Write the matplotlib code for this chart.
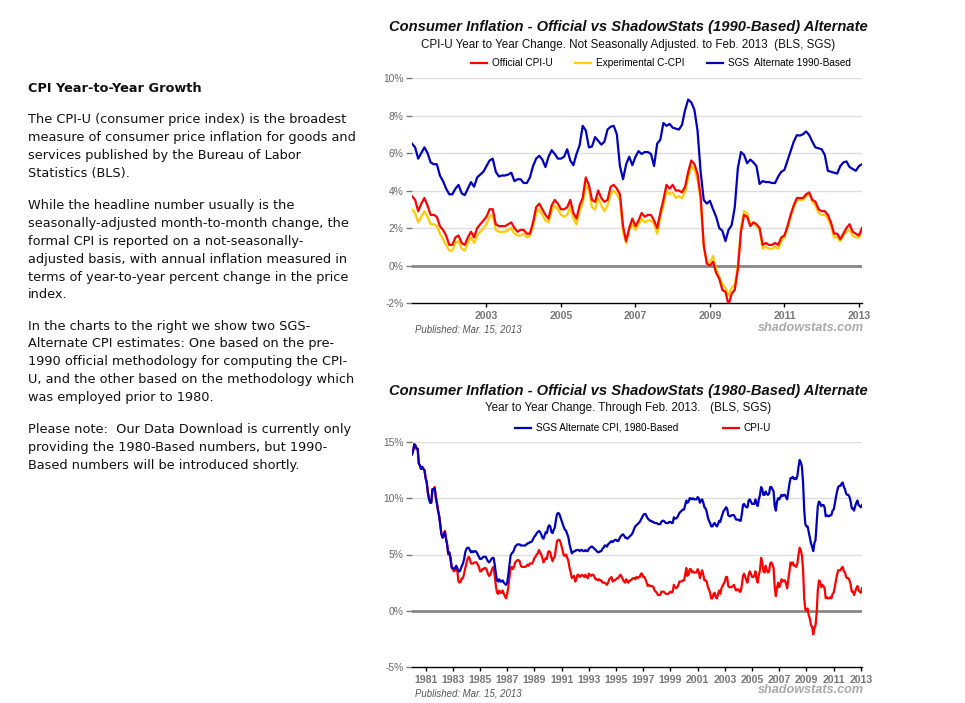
import numpy as np
import matplotlib
matplotlib.use("Agg")
import matplotlib.pyplot as plt

# ---- data: top chart, monthly Jan 2001 .. Feb 2013 ----
top_start = 2001
cpi_u = [3.7, 3.5, 2.9, 3.3, 3.6, 3.2, 2.7, 2.7, 2.6, 2.1, 1.9, 1.6,
         1.1, 1.1, 1.5, 1.6, 1.2, 1.1, 1.5, 1.8, 1.5, 2.0, 2.2, 2.4,
         2.6, 3.0, 3.0, 2.2, 2.1, 2.1, 2.1, 2.2, 2.3, 2.0, 1.8, 1.9,
         1.9, 1.7, 1.7, 2.3, 3.1, 3.3, 3.0, 2.7, 2.5, 3.2, 3.5, 3.3,
         3.0, 3.0, 3.1, 3.5, 2.8, 2.5, 3.2, 3.6, 4.7, 4.3, 3.5, 3.4,
         4.0, 3.6, 3.4, 3.5, 4.2, 4.3, 4.1, 3.8, 2.1, 1.3, 2.0, 2.5,
         2.1, 2.4, 2.8, 2.6, 2.7, 2.7, 2.4, 2.0, 2.8, 3.5, 4.3, 4.1,
         4.3, 4.0, 4.0, 3.9, 4.2, 5.0, 5.6, 5.4, 4.9, 3.7, 1.1, 0.1,
         0.0, 0.2, -0.4, -0.7, -1.3, -1.4, -2.1, -1.5, -1.3, -0.2, 1.8, 2.7,
         2.6, 2.1, 2.3, 2.2, 2.0, 1.1, 1.2, 1.1, 1.1, 1.2, 1.1, 1.5,
         1.6, 2.1, 2.7, 3.2, 3.6, 3.6, 3.6, 3.8, 3.9, 3.5, 3.4, 3.0,
         2.9, 2.9, 2.7, 2.3, 1.7, 1.7, 1.4, 1.7, 2.0, 2.2, 1.8, 1.7,
         1.6, 2.0]

c_cpi = [3.0, 2.8, 2.3, 2.6, 2.9, 2.6, 2.2, 2.2, 2.1, 1.7, 1.4, 1.1,
         0.8, 0.8, 1.2, 1.3, 0.9, 0.8, 1.2, 1.5, 1.2, 1.6, 1.8, 2.0,
         2.2, 2.6, 2.7, 1.9, 1.8, 1.8, 1.8, 1.9, 2.0, 1.7, 1.6, 1.6,
         1.7, 1.5, 1.6, 2.1, 2.8, 3.0, 2.7, 2.4, 2.3, 2.9, 3.2, 3.0,
         2.7, 2.6, 2.7, 3.1, 2.5, 2.2, 2.9, 3.3, 4.3, 4.0, 3.1, 3.0,
         3.6, 3.2, 2.9, 3.2, 3.8, 4.0, 3.8, 3.5, 1.8, 1.2, 1.9, 2.2,
         1.9, 2.2, 2.5, 2.3, 2.4, 2.4, 2.2, 1.7, 2.6, 3.2, 4.0, 3.8,
         3.9, 3.6, 3.7, 3.6, 3.9, 4.7, 5.3, 5.1, 4.6, 3.5, 1.0, 0.2,
         0.2, 0.5, -0.2, -0.6, -1.0, -1.2, -1.6, -1.2, -1.0, 0.0, 2.0, 2.9,
         2.8, 2.2, 2.3, 2.1, 1.9, 0.9, 1.0, 0.9, 0.9, 1.0, 0.9, 1.3,
         1.5, 2.0, 2.6, 3.1, 3.5, 3.5, 3.5, 3.7, 3.8, 3.4, 3.2, 2.8,
         2.7, 2.7, 2.5, 2.1, 1.5, 1.5, 1.3, 1.6, 1.8, 1.9, 1.6, 1.5,
         1.5, 1.8]

sgs_1990 = [6.5, 6.3, 5.7, 6.0, 6.3, 6.0, 5.5, 5.4, 5.4, 4.8, 4.5, 4.1,
            3.8, 3.8, 4.1, 4.3, 3.85, 3.75, 4.1, 4.45, 4.2, 4.7, 4.85, 5.0,
            5.3, 5.6, 5.7, 5.0, 4.75, 4.8, 4.8, 4.85, 4.95, 4.5, 4.6, 4.6,
            4.4, 4.4, 4.7, 5.3, 5.7, 5.85, 5.65, 5.25, 5.8, 6.15, 5.95, 5.7,
            5.7, 5.8, 6.2, 5.6, 5.35, 5.95, 6.4, 7.45, 7.2, 6.3, 6.35, 6.85,
            6.65, 6.45, 6.6, 7.25, 7.4, 7.45, 7.0, 5.3, 4.6, 5.4, 5.8, 5.35,
            5.8, 6.1, 5.95, 6.05, 6.05, 5.95, 5.3, 6.5, 6.7, 7.6, 7.45, 7.55,
            7.35, 7.3, 7.25, 7.5, 8.3, 8.85, 8.7, 8.3, 7.2, 5.0, 3.5, 3.3,
            3.45, 3.0, 2.6, 2.0, 1.85, 1.3, 1.9, 2.15, 3.1, 5.2, 6.05, 5.9,
            5.45, 5.65, 5.5, 5.3, 4.35, 4.5, 4.45, 4.45, 4.4, 4.4, 4.75, 5.0,
            5.1, 5.6, 6.1, 6.6, 6.95, 6.93, 7.0, 7.15, 6.95, 6.6, 6.3, 6.25,
            6.2, 5.9, 5.05, 5.0, 4.95, 4.9, 5.3, 5.5, 5.55, 5.25, 5.15, 5.05,
            5.3, 5.4]

# ---- data: bottom chart, monthly Jan 1980 .. Feb 2013 ----
bottom_start = 1980
cpi_u_1980_2000 = [13.9, 14.2, 14.8, 14.7, 14.4, 14.4, 13.1, 12.9, 12.6, 12.8, 12.6, 12.5,
                   11.8, 11.4, 10.5, 10.0, 9.8, 9.6, 10.8, 10.8, 11.0, 10.1, 9.6, 8.9,
                   8.4, 7.6, 6.8, 6.5, 6.7, 7.1, 6.4, 5.9, 5.0, 5.1, 4.6, 3.8,
                   3.7, 3.5, 3.6, 3.9, 3.5, 2.6, 2.5, 2.6, 2.9, 2.9, 3.3, 3.8,
                   4.2, 4.6, 4.8, 4.6, 4.2, 4.2, 4.2, 4.3, 4.3, 4.3, 4.1, 3.9,
                   3.5, 3.5, 3.7, 3.7, 3.8, 3.8, 3.6, 3.3, 3.1, 3.2, 3.5, 3.8,
                   3.9, 3.1, 2.2, 1.6, 1.5, 1.8, 1.6, 1.6, 1.8, 1.5, 1.3, 1.1,
                   1.5, 2.1, 3.0, 3.8, 3.9, 3.7, 3.9, 4.3, 4.4, 4.5, 4.5, 4.4,
                   4.0, 3.9, 3.9, 3.9, 3.9, 4.0, 4.1, 4.0, 4.2, 4.2, 4.2, 4.4,
                   4.7, 4.8, 5.0, 5.1, 5.4, 5.2, 5.0, 4.7, 4.3, 4.5, 4.7, 4.6,
                   5.2, 5.3, 5.2, 4.7, 4.4, 4.7, 4.8, 5.6, 6.2, 6.3, 6.3, 6.1,
                   5.7, 5.3, 4.9, 4.9, 5.0, 4.7, 4.4, 3.8, 3.4, 2.9, 3.0, 3.1,
                   2.6, 2.8, 3.2, 3.2, 3.0, 3.1, 3.2, 3.1, 3.0, 3.2, 3.0, 2.9,
                   3.3, 3.2, 3.1, 3.2, 3.2, 3.0, 2.8, 2.8, 2.7, 2.8, 2.7, 2.7,
                   2.5, 2.5, 2.5, 2.4, 2.3, 2.5, 2.8, 2.9, 3.0, 2.6, 2.7, 2.7,
                   2.8, 2.9, 2.9, 3.1, 3.2, 3.0, 2.8, 2.6, 2.5, 2.8, 2.6, 2.5,
                   2.7, 2.7, 2.8, 2.9, 2.9, 2.8, 3.0, 2.9, 3.0, 3.0, 3.3, 3.3,
                   3.0, 3.0, 2.8, 2.5, 2.2, 2.3, 2.2, 2.2, 2.2, 2.1, 1.8, 1.7,
                   1.6, 1.4, 1.4, 1.4, 1.7, 1.7, 1.7, 1.6, 1.5, 1.5, 1.5, 1.6,
                   1.7, 1.6, 1.7, 2.3, 2.1, 2.0, 2.1, 2.3, 2.6, 2.6, 2.6, 2.7,
                   2.7, 3.2, 3.8, 3.1, 3.2, 3.7, 3.7, 3.4, 3.5, 3.4, 3.4, 3.4]
cpi_u_long = cpi_u_1980_2000 + cpi_u

sgs_1980 = [13.9, 14.2, 14.8, 14.7, 14.4, 14.4, 13.1, 12.9, 12.6, 12.8, 12.6, 12.5,
            11.8, 11.4, 10.5, 9.9, 9.6, 9.6, 10.8, 10.8, 10.9, 10.1, 9.5, 8.9,
            8.4, 7.6, 6.8, 6.5, 6.7, 7.0, 6.4, 5.9, 5.1, 5.2, 4.7, 3.9,
            3.8, 3.7, 3.8, 4.0, 3.8, 3.5, 3.5, 3.7, 4.0, 4.2, 4.6, 5.2,
            5.5, 5.6, 5.6, 5.4, 5.2, 5.3, 5.2, 5.3, 5.3, 5.2, 5.0, 4.8,
            4.6, 4.6, 4.7, 4.8, 4.8, 4.8, 4.6, 4.4, 4.3, 4.4, 4.6, 4.7,
            4.7, 4.1, 3.3, 2.7, 2.6, 2.8, 2.6, 2.6, 2.7, 2.5, 2.4, 2.3,
            2.5, 3.2, 4.1, 4.9, 5.1, 5.2, 5.4, 5.7, 5.8, 5.9, 5.9, 5.9,
            5.8, 5.8, 5.8, 5.8, 5.8, 5.9, 6.0, 6.0, 6.1, 6.1, 6.2, 6.4,
            6.6, 6.7, 6.9, 7.0, 7.1, 7.0, 6.8, 6.5, 6.4, 6.7, 7.0, 6.9,
            7.4, 7.6, 7.5, 7.0, 6.9, 7.2, 7.4, 8.1, 8.6, 8.7, 8.6, 8.3,
            8.0, 7.7, 7.4, 7.2, 7.1, 6.8, 6.5, 5.9, 5.5, 5.1, 5.2, 5.3,
            5.3, 5.4, 5.4, 5.4, 5.3, 5.4, 5.4, 5.3, 5.3, 5.4, 5.3, 5.3,
            5.5, 5.6, 5.7, 5.7, 5.6, 5.5, 5.4, 5.3, 5.2, 5.2, 5.3, 5.3,
            5.5, 5.6, 5.8, 5.8, 5.7, 5.9, 6.0, 6.1, 6.2, 6.1, 6.2, 6.3,
            6.3, 6.2, 6.2, 6.4, 6.6, 6.7, 6.8, 6.7, 6.5, 6.5, 6.4, 6.5,
            6.6, 6.7, 6.8, 7.0, 7.3, 7.5, 7.6, 7.7, 7.8, 7.9, 8.1, 8.3,
            8.5, 8.6, 8.6, 8.4, 8.2, 8.1, 8.0, 8.0, 7.9, 7.9, 7.8, 7.8,
            7.8, 7.7, 7.7, 7.7, 7.9, 8.0, 8.0, 7.9, 7.8, 7.8, 7.8, 7.9,
            7.9, 7.8, 7.8, 8.3, 8.2, 8.2, 8.3, 8.5, 8.7, 8.8, 8.9, 9.0,
            9.0, 9.4, 9.8, 9.6, 9.7, 10.0, 10.0, 9.9, 10.0, 9.9, 9.9, 9.9,
            10.1, 10.0, 9.6, 9.8, 9.9, 9.6, 9.2, 9.1, 8.8, 8.3, 8.0, 7.8,
            7.5, 7.5, 7.7, 7.8, 7.6, 7.5, 7.7, 8.0, 7.9, 8.3, 8.6, 8.9,
            9.0, 9.2, 9.1, 8.5, 8.4, 8.4, 8.5, 8.5, 8.5, 8.3, 8.1, 8.1,
            8.1, 8.0, 8.0, 8.6, 9.4, 9.5, 9.3, 9.2, 9.2, 9.8, 9.9, 9.7,
            9.5, 9.5, 9.5, 9.9, 9.5, 9.3, 9.9, 10.3, 11.0, 10.8, 10.3, 10.3,
            10.6, 10.4, 10.3, 10.4, 11.0, 11.0, 10.8, 10.6, 9.3, 8.9, 9.7, 10.0,
            9.9, 10.1, 10.3, 10.2, 10.3, 10.3, 10.1, 9.9, 10.6, 11.3, 11.8, 11.8,
            11.9, 11.7, 11.8, 11.7, 12.0, 12.8, 13.4, 13.2, 12.8, 11.4, 9.0, 7.7,
            7.5, 7.5, 7.0, 6.5, 6.0, 5.7, 5.3, 6.0, 6.3, 7.8, 9.3, 9.7,
            9.6, 9.3, 9.4, 9.4, 9.2, 8.4, 8.5, 8.4, 8.4, 8.5, 8.5, 8.9,
            9.0, 9.5, 10.1, 10.6, 11.0, 11.1, 11.1, 11.3, 11.4, 11.0, 10.8, 10.4,
            10.3, 10.3, 10.1, 9.7, 9.1, 9.1, 8.9, 9.3, 9.6, 9.8, 9.4, 9.3,
            9.2, 9.4]

top_years = [2003, 2005, 2007, 2009, 2011, 2013]
top_yticks = [-2, 0, 2, 4, 6, 8, 10]
bottom_years = list(range(1981, 2014, 2))
bottom_yticks = [-5, 0, 5, 10, 15]

left_text = [
    ("CPI Year-to-Year Growth", True),
    None,
    ("The CPI-U (consumer price index) is the broadest", False),
    ("measure of consumer price inflation for goods and", False),
    ("services published by the Bureau of Labor", False),
    ("Statistics (BLS).", False),
    None,
    ("While the headline number usually is the", False),
    ("seasonally-adjusted month-to-month change, the", False),
    ("formal CPI is reported on a not-seasonally-", False),
    ("adjusted basis, with annual inflation measured in", False),
    ("terms of year-to-year percent change in the price", False),
    ("index.", False),
    None,
    ("In the charts to the right we show two SGS-", False),
    ("Alternate CPI estimates: One based on the pre-", False),
    ("1990 official methodology for computing the CPI-", False),
    ("U, and the other based on the methodology which", False),
    ("was employed prior to 1980.", False),
    None,
    ("Please note:  Our Data Download is currently only", False),
    ("providing the 1980-Based numbers, but 1990-", False),
    ("Based numbers will be introduced shortly.", False),
]

W, H = 965, 703
RED = "#ff0000"
YELLOW = "#ffcc00"
BLUE = "#0000bb"
SANS = "Liberation Sans"

fig = plt.figure(figsize=(W / 100, H / 100), dpi=100)
fig.patch.set_facecolor("white")


def fx(px):
    return px / W


def fy(py):
    return 1 - py / H


# left column text
y = 89
for item in left_text:
    if item is None:
        y += 13
        continue
    txt, bold = item
    fig.text(fx(28), fy(y), txt, fontsize=9.3, family="DejaVu Sans",
             fontweight="bold" if bold else "normal", color="#111111",
             va="center", ha="left")
    y += 18 if not bold else 18


def style_axes(ax, yticks, ylim, xlim, years):
    ax.set_xlim(*xlim)
    ax.set_ylim(*ylim)
    for s in ("left", "right", "top"):
        ax.spines[s].set_visible(False)
    ax.spines["bottom"].set_color("black")
    ax.spines["bottom"].set_linewidth(1)
    for v in yticks[1:]:
        if v == 0:
            ax.axhline(v, color="#888888", lw=2, zorder=1)
        else:
            ax.axhline(v, color="#dddddd", lw=1, zorder=0)
    ax.set_yticks(yticks)
    ax.set_yticklabels([f"{v}%" for v in yticks])
    ax.tick_params(axis="y", length=4, width=1, color="#777777",
                   labelcolor="#666666", labelsize=7.4, pad=2)
    ax.set_xticks(years)
    ax.set_xticklabels([str(v) for v in years], fontweight="bold")
    ax.tick_params(axis="x", length=3, width=1, color="black",
                   labelcolor="#777777", labelsize=7.6, pad=3)
    for lab in ax.get_xticklabels() + ax.get_yticklabels():
        lab.set_family(SANS)


# ---- top chart ----
ax1 = fig.add_axes([fx(412), fy(303), fx(450), 225 / H])
xt = top_start + np.arange(len(cpi_u)) / 12
ax1.plot(xt, sgs_1990, color=BLUE, lw=1.6, label="SGS  Alternate 1990-Based", zorder=3)
ax1.plot(xt, c_cpi, color=YELLOW, lw=1.6, label="Experimental C-CPI", zorder=4)
ax1.plot(xt, cpi_u, color=RED, lw=1.6, label="Official CPI-U", zorder=5)
style_axes(ax1, top_yticks, (-2, 10), (top_start, xt[-1]), top_years)
h, l = ax1.get_legend_handles_labels()
fig.legend(h[::-1], l[::-1], loc="center", bbox_to_anchor=(fx(661), fy(63)),
           ncol=3, frameon=False, handlelength=1.6, handletextpad=0.5,
           columnspacing=2.2, prop={"family": SANS, "size": 7.2})

fig.text(fx(628), fy(27), "Consumer Inflation - Official vs ShadowStats (1990-Based) Alternate",
         family=SANS, fontsize=10.6, fontweight="bold", style="italic",
         ha="center", va="center", color="#111111")
fig.text(fx(628), fy(45), "CPI-U Year to Year Change. Not Seasonally Adjusted. to Feb. 2013  (BLS, SGS)",
         family=SANS, fontsize=8.4, ha="center", va="center", color="#111111")
fig.text(fx(415), fy(329), "Published: Mar. 15, 2013", family=SANS, fontsize=6.9,
         style="italic", color="#555555", ha="left", va="center")
fig.text(fx(864), fy(328), "shadowstats.com", family=SANS, fontsize=9.1,
         style="italic", fontweight="bold", color="#aaaaaa", ha="right", va="center")

# ---- bottom chart ----
ax2 = fig.add_axes([fx(412), fy(667), fx(450), 225 / H])
xb = bottom_start + np.arange(len(cpi_u_long)) / 12
ax2.plot(xb, cpi_u_long, color=RED, lw=1.6, label="CPI-U", zorder=3)
ax2.plot(xb, sgs_1980, color=BLUE, lw=1.6, label="SGS Alternate CPI, 1980-Based", zorder=4)
style_axes(ax2, bottom_yticks, (-5, 15), (bottom_start, xb[-1]), bottom_years)
h, l = ax2.get_legend_handles_labels()
fig.legend(h[::-1], l[::-1], loc="center", bbox_to_anchor=(fx(643), fy(428)),
           ncol=2, frameon=False, handlelength=1.6, handletextpad=0.5,
           columnspacing=4.5, prop={"family": SANS, "size": 7.2})

fig.text(fx(628), fy(391), "Consumer Inflation - Official vs ShadowStats (1980-Based) Alternate",
         family=SANS, fontsize=10.6, fontweight="bold", style="italic",
         ha="center", va="center", color="#111111")
fig.text(fx(628), fy(408), "Year to Year Change. Through Feb. 2013.   (BLS, SGS)",
         family=SANS, fontsize=8.4, ha="center", va="center", color="#111111")
fig.text(fx(415), fy(693), "Published: Mar. 15, 2013", family=SANS, fontsize=6.9,
         style="italic", color="#555555", ha="left", va="center")
fig.text(fx(864), fy(690), "shadowstats.com", family=SANS, fontsize=9.1,
         style="italic", fontweight="bold", color="#aaaaaa", ha="right", va="center")

fig.savefig("out.png", dpi=100, facecolor="white")
